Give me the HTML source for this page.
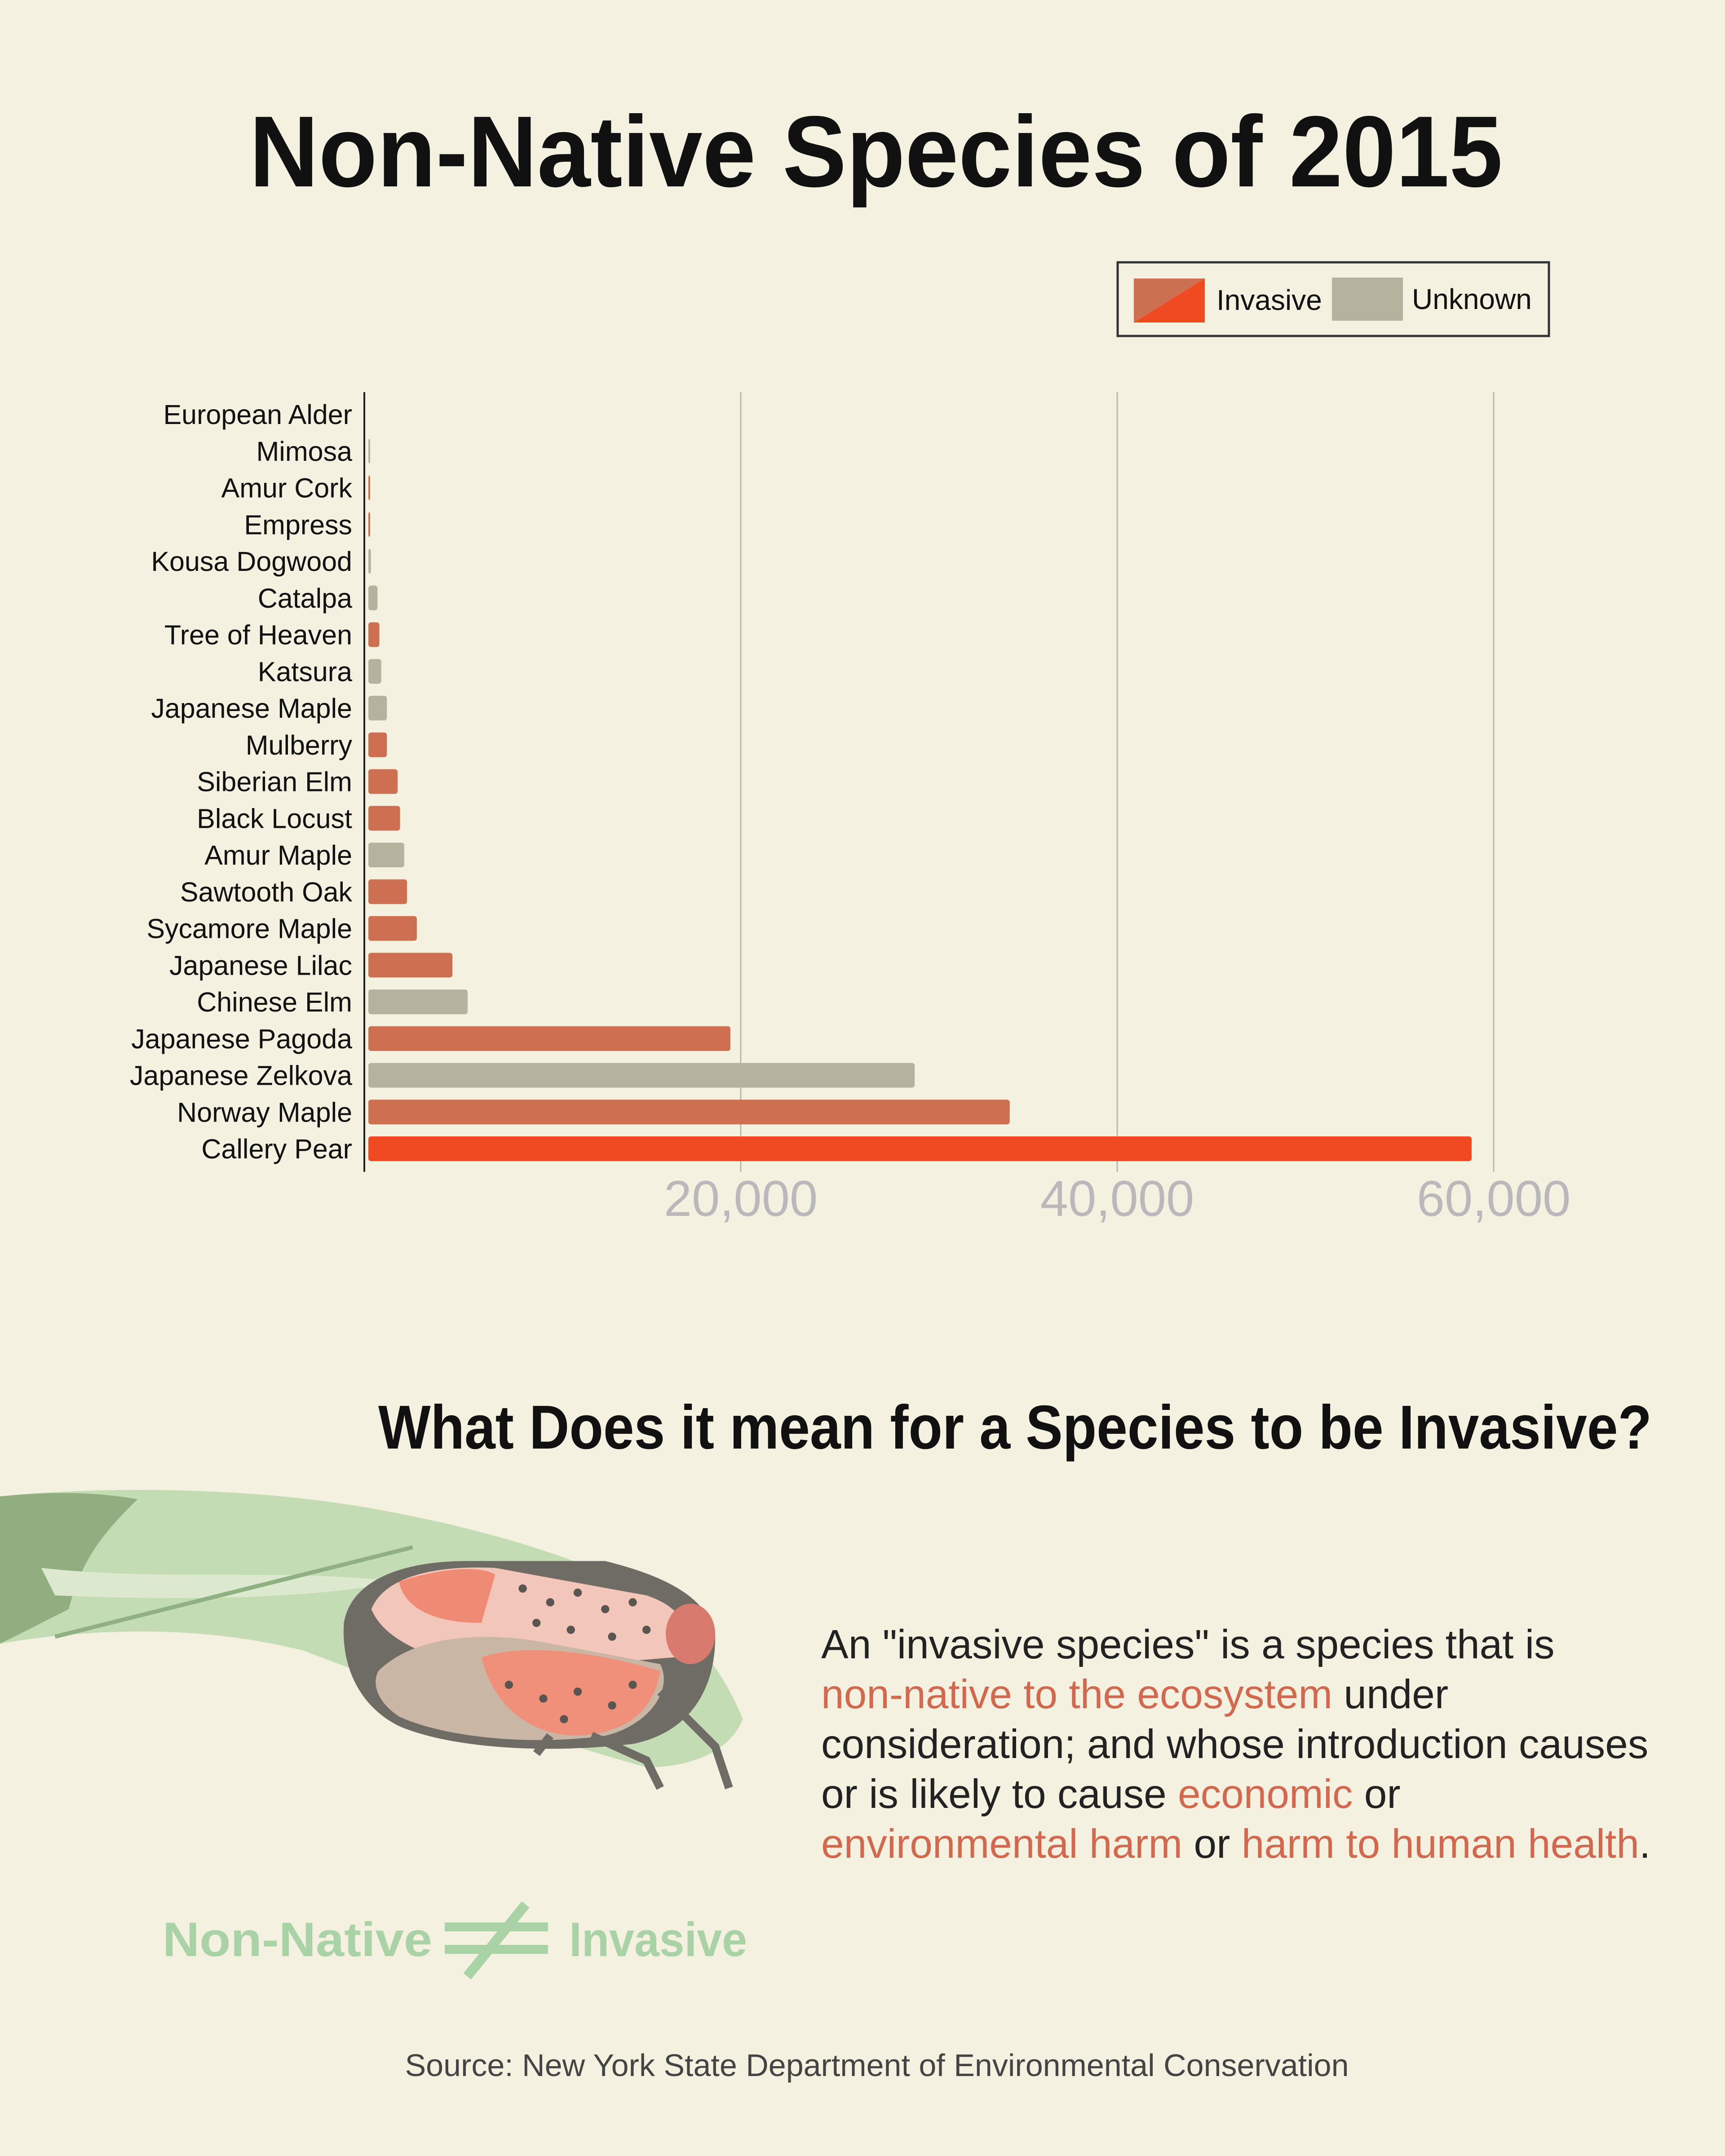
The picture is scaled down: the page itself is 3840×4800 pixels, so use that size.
<!DOCTYPE html>
<html><head><meta charset="utf-8"><style>
html,body{margin:0;padding:0;background:#f4f1e0;}
svg{display:block;}
text{font-family:"Liberation Sans",sans-serif;}
</style></head><body>
<svg id="chart" width="3840" height="4800" viewBox="0 0 3840 4800" xmlns="http://www.w3.org/2000/svg">
<rect width="3840" height="4800" fill="#f4f1e0"/>
<text x="1950" y="415" text-anchor="middle" font-size="225" font-weight="bold" fill="#111" textLength="2790" lengthAdjust="spacingAndGlyphs">Non-Native Species of 2015</text>

<g>
<rect x="2488" y="584" width="960" height="164" fill="none" stroke="#333" stroke-width="5"/>
<g>
<polygon points="2524,620 2682,620 2524,718" fill="#cc7052"/>
<polygon points="2682,620 2682,718 2524,718" fill="#f04a23"/>
<text x="2708" y="690" font-size="64" fill="#111">Invasive</text>
</g>
<g>
<rect x="2965" y="618" width="158" height="96" fill="#b5b29e"/>
<text x="3143" y="688" font-size="64" fill="#111">Unknown</text>
</g>
</g>

<g id="plot"></g>

<text x="842" y="3225" font-size="138" font-weight="bold" fill="#111" textLength="2835" lengthAdjust="spacingAndGlyphs">What Does it mean for a Species to be Invasive?</text>

<g transform="scale(3.062)">
<path d="M0,1088 C80,1080 180,1082 260,1095 C320,1105 380,1120 430,1140 C480,1160 520,1200 540,1250 C530,1275 500,1285 470,1285 C380,1260 300,1230 220,1200 C140,1180 60,1185 0,1195 Z" fill="#c4dcb4"/>
<path d="M0,1088 C40,1084 70,1085 100,1090 C80,1110 60,1130 50,1170 C30,1180 15,1188 0,1195 Z" fill="#90ae80"/>
<path d="M30,1140 C120,1150 200,1140 290,1150 C240,1160 160,1165 40,1160 Z" fill="#dde9cf"/>
<path d="M40,1190 C120,1170 200,1150 300,1125" stroke="#8fb082" stroke-width="3" fill="none"/>
<path d="M250,1180 C255,1150 290,1135 340,1135 L440,1135 C480,1145 515,1160 520,1190 C520,1230 500,1260 460,1268 C400,1275 330,1272 290,1255 C260,1240 248,1210 250,1180 Z" fill="#6f6b65"/>
<path d="M270,1170 C280,1145 320,1138 360,1140 L470,1160 C500,1170 505,1190 490,1205 L370,1215 C320,1210 280,1195 270,1170 Z" fill="#f2c6b8"/>
<path d="M290,1150 C320,1140 350,1138 360,1145 L350,1180 C320,1180 295,1172 290,1150 Z" fill="#ef8b74"/>
<path d="M275,1215 C300,1190 350,1185 400,1195 L480,1210 C490,1230 470,1255 440,1262 C380,1270 320,1262 290,1248 C275,1238 270,1225 275,1215 Z" fill="#c9b6a4"/>
<path d="M350,1205 C380,1195 430,1200 480,1215 C475,1245 455,1260 420,1262 C390,1262 360,1245 350,1205 Z" fill="#f0907a"/>
<ellipse cx="502" cy="1188" rx="18" ry="22" fill="#d97a6e"/>
<path d="M480,1230 L520,1270 L530,1300 M430,1262 L470,1280 L480,1300 M400,1262 L390,1275" stroke="#6f6b65" stroke-width="6" fill="none"/>
<g fill="#5a5550">
<circle cx="380" cy="1155" r="3"/><circle cx="400" cy="1165" r="3"/><circle cx="420" cy="1158" r="3"/><circle cx="440" cy="1170" r="3"/><circle cx="460" cy="1165" r="3"/><circle cx="390" cy="1180" r="3"/><circle cx="415" cy="1185" r="3"/><circle cx="445" cy="1190" r="3"/><circle cx="470" cy="1185" r="3"/><circle cx="370" cy="1225" r="3"/><circle cx="395" cy="1235" r="3"/><circle cx="420" cy="1230" r="3"/><circle cx="445" cy="1240" r="3"/><circle cx="410" cy="1250" r="3"/><circle cx="460" cy="1225" r="3"/>
</g>
</g>

<g font-size="91" fill="#222">
<text x="1828" y="3692">An "invasive species" is a species that is</text>
<text x="1828" y="3803"><tspan fill="#d2694f">non-native to the ecosystem</tspan> under</text>
<text x="1828" y="3914">consideration; and whose introduction causes</text>
<text x="1828" y="4025">or is likely to cause <tspan fill="#d2694f">economic</tspan> or</text>
<text x="1828" y="4136"><tspan fill="#d2694f">environmental harm</tspan> or <tspan fill="#d2694f">harm to human health</tspan>.</text>
</g>

<g fill="#a9d3a7">
<text x="362" y="4355" font-size="108" font-weight="bold" textLength="600" lengthAdjust="spacingAndGlyphs">Non-Native</text>
<rect x="990" y="4280" width="230" height="20"/>
<rect x="990" y="4330" width="230" height="20"/>
<line x1="1040" y1="4400" x2="1170" y2="4240" stroke="#a9d3a7" stroke-width="22"/>
<text x="1267" y="4355" font-size="108" font-weight="bold" textLength="396" lengthAdjust="spacingAndGlyphs">Invasive</text>
</g>

<text x="1952" y="4622" text-anchor="middle" font-size="70" fill="#444">Source: New York State Department of Environmental Conservation</text>
</svg>
<script>
const categories = ["European Alder","Mimosa","Amur Cork","Empress","Kousa Dogwood","Catalpa","Tree of Heaven","Katsura","Japanese Maple","Mulberry","Siberian Elm","Black Locust","Amur Maple","Sawtooth Oak","Sycamore Maple","Japanese Lilac","Chinese Elm","Japanese Pagoda","Japanese Zelkova","Norway Maple","Callery Pear"];
const counts = [0,150,200,200,350,700,800,900,1200,1200,1770,1900,2120,2270,2790,4680,5490,19450,29240,34290,58830];
const status = ["invasive","unknown","invasive","invasive","unknown","unknown","invasive","unknown","unknown","invasive","invasive","invasive","unknown","invasive","invasive","invasive","unknown","invasive","unknown","invasive","top"];
const tickValues = [20000,40000,60000];
const tickLabels = ["20,000","40,000","60,000"];

const NS = "http://www.w3.org/2000/svg";
const plot = document.getElementById("plot");
const x0 = 811, pxPer = 838/20000;
const xScale = v => x0 + v*pxPer;
const rowTop = 922, rowStep = 81.75;
const yScale = i => rowTop + i*rowStep;
const colors = {invasive:"#cd6f51", unknown:"#b5b29e", top:"#f04a23"};
function mk(tag, attrs){const e=document.createElementNS(NS,tag);for(const k in attrs)e.setAttribute(k,attrs[k]);plot.appendChild(e);return e;}

tickValues.forEach((v,i)=>{
  const g = mk("line",{x1:xScale(v),x2:xScale(v),y1:873,y2:2609,stroke:"#b9b7b5","stroke-width":3});
  
  
  const t = mk("text",{x:xScale(v),y:2707,"text-anchor":"middle","font-size":112,fill:"#bab8bb"});
  t.textContent = tickLabels[i];
  
  
});
const ax = mk("line",{x1:x0,x2:x0,y1:873,y2:2609,stroke:"#222","stroke-width":4});



categories.forEach((c,i)=>{
  const cy = yScale(i);
  const w = xScale(counts[i]) - xScale(0) - 9;
  if (counts[i] > 0) {
    const r = mk("rect",{x:x0+9,y:cy-27,width:Math.max(w,4),height:55,rx:6,fill:colors[status[i]]});
    
    
  }
  const t = mk("text",{x:784,y:cy+22,"text-anchor":"end","font-size":61,fill:"#111"});
  t.textContent = c;
  
  
});
</script>
</body></html>
